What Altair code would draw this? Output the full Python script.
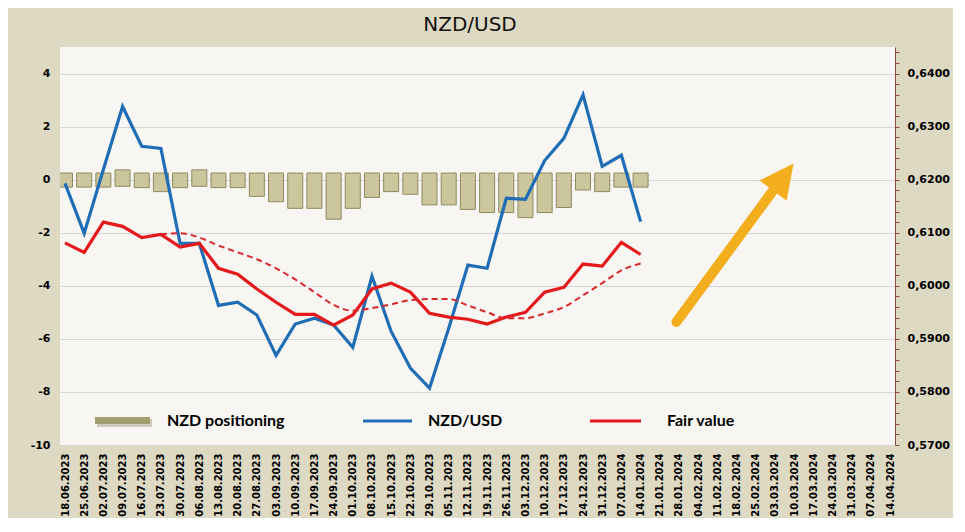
import altair as alt
import pandas as pd

# ---------------- data ----------------
WEEKS = [
    "2023-06-18", "2023-06-25", "2023-07-02", "2023-07-09", "2023-07-16", "2023-07-23",
    "2023-07-30", "2023-08-06", "2023-08-13", "2023-08-20", "2023-08-27", "2023-09-03",
    "2023-09-10", "2023-09-17", "2023-09-24", "2023-10-01", "2023-10-08", "2023-10-15",
    "2023-10-22", "2023-10-29", "2023-11-05", "2023-11-12", "2023-11-19", "2023-11-26",
    "2023-12-03", "2023-12-10", "2023-12-17", "2023-12-24", "2023-12-31", "2024-01-07",
    "2024-01-14", "2024-01-21", "2024-01-28", "2024-02-04", "2024-02-11", "2024-02-18",
    "2024-02-25", "2024-03-03", "2024-03-10", "2024-03-17", "2024-03-24", "2024-03-31",
    "2024-04-07", "2024-04-14",
]

NZD_POSITIONING = [
    -0.03, -0.03, -0.03, 0.12, -0.05, -0.20, -0.05, 0.12, -0.05, -0.05,
    -0.38, -0.58, -0.83, -0.83, -1.24, -0.83, -0.42, -0.20, -0.30, -0.70,
    -0.70, -0.87, -0.99, -0.99, -1.18, -0.99, -0.80, -0.14, -0.20, -0.03, -0.03,
]

NZDUSD = [
    0.6193, 0.6099, 0.6219, 0.6338, 0.6263, 0.6259, 0.6080, 0.6080, 0.5963, 0.5969,
    0.5945, 0.5869, 0.5928, 0.5939, 0.5926, 0.5884, 0.6018, 0.5914, 0.5845, 0.5807,
    0.5920, 0.6039, 0.6033, 0.6165, 0.6163, 0.6236, 0.6278, 0.6360, 0.6225, 0.6246, 0.6121,
]

FAIR_VALUE = [
    0.6081, 0.6063, 0.6120, 0.6112, 0.6091, 0.6097, 0.6073, 0.6080, 0.6033, 0.6022,
    0.5994, 0.5969, 0.5946, 0.5946, 0.5926, 0.5945, 0.5994, 0.6005, 0.5988, 0.5948,
    0.5941, 0.5937, 0.5928, 0.5941, 0.5950, 0.5988, 0.5997, 0.6041, 0.6037, 0.6082, 0.6059,
]

FAIR_VALUE_MA = [
    None, None, None, None, None,
    0.6097, 0.6099, 0.6091, 0.6076, 0.6063, 0.6050, 0.6033, 0.6012, 0.5988, 0.5964,
    0.5953, 0.5958, 0.5965, 0.5973, 0.5975, 0.5975, 0.5963, 0.5950, 0.5939, 0.5939,
    0.5948, 0.5960, 0.5982, 0.6005, 0.6029, 0.6042,
]

LEFT_TICKS = [-10, -8, -6, -4, -2, 0, 2, 4]
RIGHT_TICKS = [0.57, 0.58, 0.59, 0.60, 0.61, 0.62, 0.63, 0.64]

# arrow annotation: (week offset, left-axis value)
ARROW_TAIL = (31.87, -5.36)
ARROW_SHAFT_END = (37.08, -0.24)
ARROW_HEAD = (37.44, 0.10)

TITLE = "NZD/USD"
LEGEND_LABELS = ["NZD positioning", "NZD/USD", "Fair value"]

# ---------------- helpers ----------------
BASE = pd.Timestamp(WEEKS[0], tz="UTC")


def iso(ts):
    return ts.strftime("%Y-%m-%dT%H:%M:%SZ")


def week_iso(w):
    return iso(BASE + pd.Timedelta(days=7 * w))


def dt(s):
    y, m, d = (int(p) for p in s.split("-"))
    return alt.DateTime(year=y, month=m, date=d, utc=True)


n = len(NZDUSD)
dates = [iso(pd.Timestamp(d, tz="UTC")) for d in WEEKS[:n]]

bars_df = pd.DataFrame({"date": dates, "pos": NZD_POSITIONING})
blue_df = pd.DataFrame({"date": dates, "v": NZDUSD})
red_df = pd.DataFrame({"date": dates, "v": FAIR_VALUE})
ma_df = pd.DataFrame({"date": dates, "v": FAIR_VALUE_MA}).dropna()

arrow_df = pd.DataFrame({
    "date": [week_iso(ARROW_TAIL[0])], "date2": [week_iso(ARROW_SHAFT_END[0])],
    "y": [ARROW_TAIL[1]], "y2": [ARROW_SHAFT_END[1]],
})
head_df = pd.DataFrame({"date": [week_iso(ARROW_HEAD[0])], "y": [ARROW_HEAD[1]]})

# minor tick positions for the right axis (every 0.002)
right_minor = [round(RIGHT_TICKS[0] + 0.002 * k, 3) for k in range(int(round((0.645 - 0.57) / 0.002)) + 1)]

FONT_AX = "DejaVu Sans"

x_scale = alt.Scale(type="utc", domain=[dt(WEEKS[0]), dt(WEEKS[-1])])
x_axis = alt.Axis(
    values=[dt(w) for w in WEEKS],
    labelExpr="utcFormat(datum.value, '%d.%m.%Y')",
    labelAngle=270,
    labelFont=FONT_AX, labelFontWeight="bold", labelFontSize=10, labelColor="#000000",
    labelPadding=8, labelOverlap=False, labelFlush=False, labelBound=False,
    ticks=False, domain=False, grid=False, title=None,
)


def X(field="date"):
    return alt.X(f"{field}:T", scale=x_scale, axis=x_axis)


left_scale = alt.Scale(domain=[-10, 5], nice=False, zero=False)
left_axis = alt.Axis(
    values=LEFT_TICKS, orient="left", labelExpr="'' + datum.value",
    domain=False, ticks=False, grid=True, gridColor="#D6D6D6", gridWidth=1,
    labelFont=FONT_AX, labelFontWeight="bold", labelFontSize=11, labelColor="#000000",
    labelPadding=10, title=None,
)

right_scale = alt.Scale(domain=[0.57, 0.645], nice=False, zero=False)
right_axis = alt.Axis(
    values=right_minor, orient="right",
    labelExpr="abs(datum.value*100 - round(datum.value*100)) < 0.001 ? replace(format(datum.value, '.4f'), '.', ',') : ''",
    domain=True, domainColor="#8A4A44", domainWidth=1,
    ticks=True, tickColor="#8A4A44", tickSize=4,
    grid=False, labelOverlap=False,
    labelFont=FONT_AX, labelFontWeight="bold", labelFontSize=11, labelColor="#000000",
    labelPadding=8, title=None,
)

# ---------------- left group (bars, arrow, legend, title) ----------------
PAD = 0.25  # bevel-like padding of each bar block

bars = alt.Chart(bars_df).mark_bar(
    size=15, clip=True, fill="#CCC69D", stroke="#8E895F", strokeWidth=1
).transform_calculate(
    lo=f"min(datum.pos, 0) - {PAD}", hi=f"max(datum.pos, 0) + {PAD}"
).encode(
    x=X(),
    y=alt.Y("lo:Q", scale=left_scale, axis=left_axis),
    y2="hi:Q",
)

arrow = alt.Chart(arrow_df).mark_rule(
    strokeWidth=10, strokeCap="round", color="#F2AE1C"
).encode(
    x=X(), x2="date2:T",
    y=alt.Y("y:Q", scale=left_scale, axis=left_axis), y2="y2:Q",
)

head = alt.Chart(head_df).mark_point(
    shape="M0,-1L1,1L-1,1Z", size=1150, angle=37, filled=True,
    fill="#F2AE1C", opacity=1, strokeWidth=0,
).encode(
    x=X(),
    y=alt.Y("y:Q", scale=left_scale, axis=left_axis),
)

one = alt.Data(values=[{"k": 1}])

title_mark = alt.Chart(one).mark_text(
    font="DejaVu Sans", fontSize=20, color="#111111", align="center", baseline="alphabetic"
).encode(x=alt.value(410), y=alt.value(-16), text=alt.value(TITLE))

LEG_Y = 374
leg_font = dict(font="Lato", fontWeight="bold", fontSize=16, color="#000000", align="left", baseline="middle")

leg_shadow = alt.Chart(one).mark_rect(color="#B9B6AA", opacity=0.7).encode(
    x=alt.value(37), x2=alt.value(92), y=alt.value(LEG_Y - 2), y2=alt.value(LEG_Y + 6))
leg_bar = alt.Chart(one).mark_rect(color="#A39E6D").encode(
    x=alt.value(35), x2=alt.value(90), y=alt.value(LEG_Y - 4), y2=alt.value(LEG_Y + 3))
leg_t1 = alt.Chart(one).mark_text(**leg_font).encode(
    x=alt.value(107), y=alt.value(LEG_Y), text=alt.value(LEGEND_LABELS[0]))
leg_blue = alt.Chart(one).mark_rule(color="#1F6DB5", strokeWidth=3).encode(
    x=alt.value(303), x2=alt.value(352), y=alt.value(LEG_Y))
leg_t2 = alt.Chart(one).mark_text(**leg_font).encode(
    x=alt.value(368), y=alt.value(LEG_Y), text=alt.value(LEGEND_LABELS[1]))
leg_red = alt.Chart(one).mark_rule(color="#E3191C", strokeWidth=3).encode(
    x=alt.value(530), x2=alt.value(581), y=alt.value(LEG_Y))
leg_t3 = alt.Chart(one).mark_text(**leg_font).encode(
    x=alt.value(607), y=alt.value(LEG_Y), text=alt.value(LEGEND_LABELS[2]))

left_group = alt.layer(bars, arrow, head, title_mark, leg_shadow, leg_bar, leg_t1,
                       leg_blue, leg_t2, leg_red, leg_t3)

# ---------------- right group (lines) ----------------
blue = alt.Chart(blue_df).mark_line(color="#1F6DB5", strokeWidth=3.2, clip=True).encode(
    x=X(), y=alt.Y("v:Q", scale=right_scale, axis=right_axis))
red = alt.Chart(red_df).mark_line(color="#E3191C", strokeWidth=3.2, clip=True).encode(
    x=X(), y=alt.Y("v:Q", scale=right_scale, axis=right_axis))
ma = alt.Chart(ma_df).mark_line(
    color="#D9272B", strokeWidth=2, strokeDash=[6, 4], interpolate="monotone", clip=True
).encode(
    x=X(), y=alt.Y("v:Q", scale=right_scale, axis=right_axis))

right_group = alt.layer(blue, red, ma)

chart = alt.layer(left_group, right_group).resolve_scale(y="independent").properties(
    width=835,
    height=398,
    padding={"left": 52, "top": 39, "right": 58, "bottom": 73},
    autosize=alt.AutoSizeParams(type="none"),
    background="#DDD9C3",
).configure_view(stroke=None, fill="#F7F6F2")

chart.save("out.html", embed_options={"renderer": "svg", "actions": False})
